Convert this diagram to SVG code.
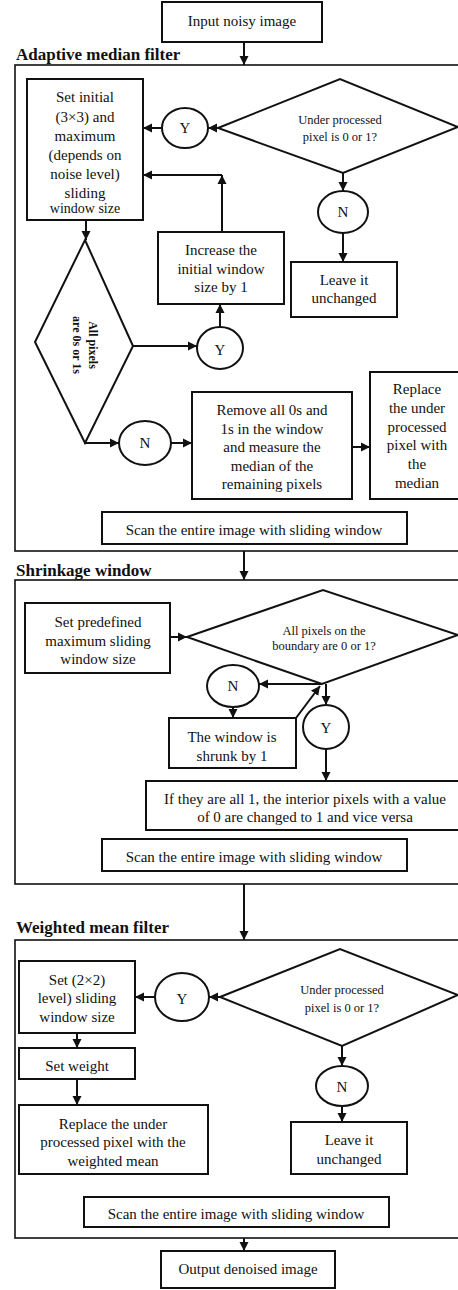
<svg xmlns="http://www.w3.org/2000/svg" width="458" height="1290" viewBox="0 0 458 1290">
<defs>
<style>
.bx{fill:#fff;stroke:#111;stroke-width:2}
.ct{fill:none;stroke:#111;stroke-width:1.6}
.ln{fill:none;stroke:#111;stroke-width:2;marker-end:url(#ah)}
.t{font-family:"Liberation Serif","Times New Roman",serif;font-size:15px;fill:#111;text-anchor:middle;dominant-baseline:central}
.s{font-size:12.5px}
.m{font-size:14px}
.h{font-family:"Liberation Serif","Times New Roman",serif;font-size:17px;font-weight:bold;fill:#111;dominant-baseline:central}
.b{font-weight:bold;font-size:12px}
</style>
<marker id="ah" markerWidth="10" markerHeight="10" refX="9" refY="5" orient="auto" markerUnits="userSpaceOnUse"><path d="M0,0.5 L9,5 L0,9.5 z" fill="#111"/></marker>
</defs>
<rect width="458" height="1290" fill="#fff"/>

<g id="containers">
<rect class="ct" x="15" y="65" width="470" height="486"/>
<rect class="ct" x="15" y="580" width="470" height="304"/>
<rect class="ct" x="15" y="940" width="470" height="298"/>
<text class="h" x="16" y="54">Adaptive median filter</text>
<text class="h" x="16" y="570">Shrinkage window</text>
<text class="h" x="16" y="927">Weighted mean filter</text>
</g>

<g id="connectors">
<path class="ln" d="M244,42 V65"/>
<path class="ln" d="M218,128 H208"/>
<path class="ln" d="M162,128 H143"/>
<path class="ln" d="M343,173 V191"/>
<path class="ln" d="M343,233 V262"/>
<path class="ln" d="M222,232 V175"/>
<path class="ln" d="M222,175 H143"/>
<path class="ln" d="M86,220 V240"/>
<path class="ln" d="M133,346 H197"/>
<path class="ln" d="M220,327 V304"/>
<path class="ln" d="M85,443 H119"/>
<path class="ln" d="M171,443 H192"/>
<path class="ln" d="M352,447 H370"/>
<path class="ln" d="M244,551 V580"/>
<path class="ln" d="M170,637 H187"/>
<path class="ln" d="M322,684 H259"/>
<path class="ln" d="M233,707 V718"/>
<path class="ln" d="M296,718 L320,686"/>
<path class="ln" d="M326,684 V705"/>
<path class="ln" d="M326,749 V781"/>
<path class="ln" d="M244,884 V940"/>
<path class="ln" d="M220,997 H209"/>
<path class="ln" d="M155,997 H135"/>
<path class="ln" d="M342,1046 V1066"/>
<path class="ln" d="M342,1106 V1122"/>
<path class="ln" d="M77,1033 V1048"/>
<path class="ln" d="M77,1079 V1105"/>
<path class="ln" d="M244,1238 V1251"/>
</g>

<g id="input"><rect class="bx" x="162" y="2" width="160" height="40"/><text class="t" x="242" y="21">Input noisy image</text></g>

<g id="set-initial"><rect class="bx" x="27" y="79" width="116" height="141"/>
<text class="t" x="85" y="97">Set initial</text>
<text class="t" x="85" y="117">(3×3) and</text>
<text class="t" x="85" y="136">maximum</text>
<text class="t" x="85" y="155">(depends on</text>
<text class="t" x="85" y="174">noise level)</text>
<text class="t" x="85" y="193">sliding</text>
<text class="t m" x="85" y="208">window size</text></g>

<g id="y1"><ellipse class="bx" cx="185" cy="128" rx="23" ry="20"/><text class="t" x="185" y="128">Y</text></g>

<g id="d1"><path class="bx" d="M218,128 L340,79 L458,127 L343,173 Z"/>
<text class="t s" x="340" y="120">Under processed</text>
<text class="t s" x="340" y="137">pixel is 0 or 1?</text></g>

<g id="n1"><ellipse class="bx" cx="343" cy="212" rx="25" ry="21"/><text class="t" x="343" y="212">N</text></g>

<g id="leave1"><rect class="bx" x="291" y="262" width="106" height="55"/>
<text class="t" x="344" y="280">Leave it</text>
<text class="t" x="344" y="298">unchanged</text></g>

<g id="increase"><rect class="bx" x="158" y="232" width="126" height="72"/>
<text class="t" x="221" y="250">Increase the</text>
<text class="t" x="221" y="269">initial window</text>
<text class="t" x="221" y="287">size by 1</text></g>

<g id="d2"><path class="bx" d="M85,240 L133,346 L85,443 L35,342 Z"/>
<text class="t b" transform="translate(85,345) rotate(90)" x="0" y="-8">All pixels</text>
<text class="t b" transform="translate(85,345) rotate(90)" x="0" y="8">are 0s or 1s</text></g>

<g id="y2"><ellipse class="bx" cx="220" cy="348" rx="23" ry="21"/><text class="t" x="220" y="350">Y</text></g>

<g id="n2"><ellipse class="bx" cx="145" cy="443" rx="26" ry="22"/><text class="t" x="145" y="443">N</text></g>

<g id="remove"><rect class="bx" x="192" y="392" width="160" height="107"/>
<text class="t" x="272" y="410">Remove all 0s and</text>
<text class="t" x="272" y="429">1s in the window</text>
<text class="t" x="272" y="447">and measure the</text>
<text class="t" x="272" y="466">median of the</text>
<text class="t" x="272" y="484">remaining pixels</text></g>

<g id="replace1"><rect class="bx" x="370" y="372" width="94" height="127"/>
<text class="t" x="417" y="389">Replace</text>
<text class="t" x="417" y="408">the under</text>
<text class="t" x="417" y="427">processed</text>
<text class="t" x="417" y="445">pixel with</text>
<text class="t" x="417" y="464">the</text>
<text class="t" x="417" y="483">median</text></g>

<g id="scan1"><rect class="bx" x="102" y="512" width="305" height="32"/><text class="t" x="254" y="530">Scan the entire image with sliding window</text></g>

<g id="set-predef"><rect class="bx" x="25" y="603" width="145" height="70"/>
<text class="t" x="98" y="622">Set predefined</text>
<text class="t" x="98" y="641">maximum sliding</text>
<text class="t" x="98" y="659">window size</text></g>

<g id="d3"><path class="bx" d="M187,637 L323,590 L458,635 L322,684 Z"/>
<text class="t s" x="324" y="631">All pixels on the</text>
<text class="t s" x="324" y="646">boundary are 0 or 1?</text></g>

<g id="n3"><ellipse class="bx" cx="233" cy="686" rx="26" ry="21"/><text class="t" x="233" y="686">N</text></g>

<g id="shrunk"><rect class="bx" x="169" y="718" width="127" height="50"/>
<text class="t" x="232" y="737">The window is</text>
<text class="t" x="232" y="756">shrunk by 1</text></g>

<g id="y3"><ellipse class="bx" cx="326" cy="727" rx="23" ry="22"/><text class="t" x="326" y="728">Y</text></g>

<g id="if-all"><rect class="bx" x="146" y="781" width="320" height="49"/>
<text class="t" x="305" y="799">If they are all 1, the interior pixels with a value</text>
<text class="t" x="305" y="817">of 0 are changed to 1 and vice versa</text></g>

<g id="scan2"><rect class="bx" x="102" y="839" width="305" height="32"/><text class="t" x="254" y="857">Scan the entire image with sliding window</text></g>

<g id="set-2x2"><rect class="bx" x="19" y="961" width="116" height="72"/>
<text class="t" x="77" y="980">Set (2×2)</text>
<text class="t" x="77" y="998">level) sliding</text>
<text class="t" x="77" y="1017">window size</text></g>

<g id="y4"><ellipse class="bx" cx="182" cy="997" rx="27" ry="24"/><text class="t" x="182" y="999">Y</text></g>

<g id="d4"><path class="bx" d="M220,997 L340,949 L458,995 L342,1046 Z"/>
<text class="t s" x="342" y="990">Under processed</text>
<text class="t s" x="342" y="1008">pixel is 0 or 1?</text></g>

<g id="n4"><ellipse class="bx" cx="342" cy="1086" rx="26" ry="20"/><text class="t" x="342" y="1087">N</text></g>

<g id="leave2"><rect class="bx" x="291" y="1122" width="116" height="52"/>
<text class="t" x="349" y="1140">Leave it</text>
<text class="t" x="349" y="1159">unchanged</text></g>

<g id="set-weight"><rect class="bx" x="19" y="1048" width="116" height="31"/><text class="t" x="77" y="1066">Set weight</text></g>

<g id="replace2"><rect class="bx" x="19" y="1105" width="189" height="69"/>
<text class="t" x="113" y="1124">Replace the under</text>
<text class="t" x="113" y="1142">processed pixel with the</text>
<text class="t" x="113" y="1161">weighted mean</text></g>

<g id="scan3"><rect class="bx" x="84" y="1197" width="305" height="30"/><text class="t" x="236" y="1214">Scan the entire image with sliding window</text></g>

<g id="output"><rect class="bx" x="161" y="1251" width="174" height="37"/><text class="t" x="248" y="1269">Output denoised image</text></g>
</svg>
